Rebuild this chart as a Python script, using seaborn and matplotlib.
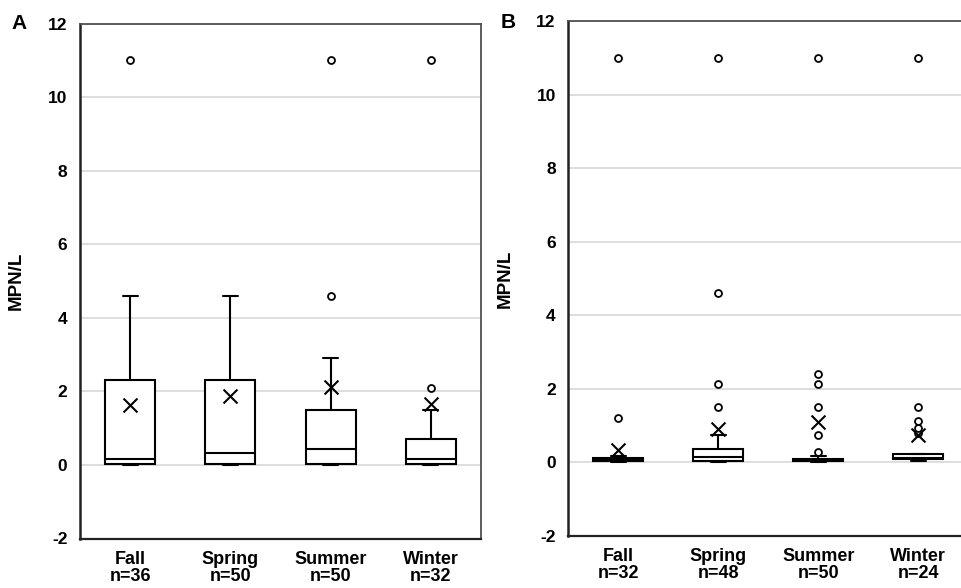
import matplotlib
matplotlib.use('Agg')
import matplotlib.pyplot as plt
import pandas as pd
import seaborn as sns

seasons = ['Fall', 'Spring', 'Summer', 'Winter']

# Panel A
n_a = [36, 50, 50, 32]
whislo_a = [0.0, 0.0, 0.0, 0.0]
q1_a = [0.03, 0.03, 0.03, 0.03]
med_a = [0.17, 0.33, 0.43, 0.15]
q3_a = [2.32, 2.32, 1.49, 0.70]
whishi_a = [4.6, 4.6, 2.9, 1.49]
mean_a = [1.64, 1.88, 2.13, 1.67]
fliers_a = [[11.0], [], [4.6, 11.0], [2.1, 11.0]]

# Panel B
n_b = [32, 48, 50, 24]
whislo_b = [0.0, 0.0, 0.0, 0.02]
q1_b = [0.02, 0.03, 0.02, 0.08]
med_b = [0.05, 0.15, 0.05, 0.12]
q3_b = [0.10, 0.36, 0.09, 0.22]
whishi_b = [0.16, 0.73, 0.16, 0.22]
mean_b = [0.32, 0.89, 1.08, 0.73]
fliers_b = [[1.21, 11.0],
            [1.51, 2.12, 4.6, 11.0],
            [0.28, 0.73, 1.51, 2.12, 2.41, 11.0],
            [0.78, 0.94, 1.12, 1.51, 11.0]]

sns.set_theme(style='white')
plt.rcParams['font.family'] = ['Liberation Sans', 'DejaVu Sans']
plt.rcParams['font.weight'] = 'bold'
plt.rcParams['axes.unicode_minus'] = False
for key in ['text.color', 'axes.labelcolor', 'xtick.color', 'ytick.color']:
    plt.rcParams[key] = 'black'


def draw_panel(ax, n, lo, q1, med, q3, hi, mean, fliers):
    stats = [dict(whislo=lo[i], q1=q1[i], med=med[i], q3=q3[i],
                  whishi=hi[i], fliers=fliers[i]) for i in range(len(seasons))]
    line = dict(color='black', linewidth=1.5)
    ax.bxp(stats, positions=range(len(seasons)), widths=0.5, capwidths=0.15,
           patch_artist=True, showfliers=True,
           boxprops=dict(facecolor='white', edgecolor='black', linewidth=1.5),
           medianprops=line, whiskerprops=line, capprops=line,
           flierprops=dict(marker='o', markerfacecolor='white', markeredgecolor='black',
                           markersize=5, markeredgewidth=1.3))

    # mean markers
    df = pd.DataFrame({'season': seasons, 'mean': mean})
    sns.stripplot(data=df, x='season', y='mean', marker='x', size=10, color='black',
                  edgecolor='black', linewidth=1.5, jitter=False, ax=ax, zorder=4)

    ax.set_xlim(-0.5, 3.5)
    ax.set_ylim(-2, 12)
    ax.set_yticks(range(-2, 13, 2))
    ax.set_xticks(range(len(seasons)))
    ax.set_xticklabels([f'{s}\nn={k}' for s, k in zip(seasons, n)],
                       fontsize=13, fontweight='bold', linespacing=0.98)
    ax.tick_params(axis='y', length=0, pad=9, labelsize=12.5)
    ax.tick_params(axis='x', length=0, pad=9)
    ax.yaxis.grid(True, color='#d4d4d4', linewidth=1.1)
    ax.set_axisbelow(True)
    ax.set_xlabel('')
    ax.set_ylabel('MPN/L', fontsize=13.5, fontweight='bold')
    ax.yaxis.set_label_coords(-0.137, 0.5)
    for side, sp in ax.spines.items():
        sp.set_visible(True)
        sp.set_color('#505050')
        sp.set_linewidth(1.3)
    ax.spines['left'].set_color('#222222')
    ax.spines['left'].set_linewidth(1.8)
    ax.spines['bottom'].set_color('#222222')
    ax.spines['bottom'].set_linewidth(1.6)


fig = plt.figure(figsize=(9.62, 5.88), dpi=100)
ax_a = fig.add_axes([80 / 962, 1 - 538.5 / 588, 401 / 962, (538.5 - 23.6) / 588])
ax_b = fig.add_axes([568.3 / 962, 1 - 535.5 / 588, 400 / 962, (535.5 - 21.3) / 588])

draw_panel(ax_a, n_a, whislo_a, q1_a, med_a, q3_a, whishi_a, mean_a, fliers_a)
draw_panel(ax_b, n_b, whislo_b, q1_b, med_b, q3_b, whishi_b, mean_b, fliers_b)

fig.text(19.5 / 962, 1 - 23.5 / 588, 'A', ha='center', va='center', fontsize=15, fontweight='bold')
fig.text(508.5 / 962, 1 - 22.5 / 588, 'B', ha='center', va='center', fontsize=15, fontweight='bold')

fig.savefig('out.png', dpi=100)
